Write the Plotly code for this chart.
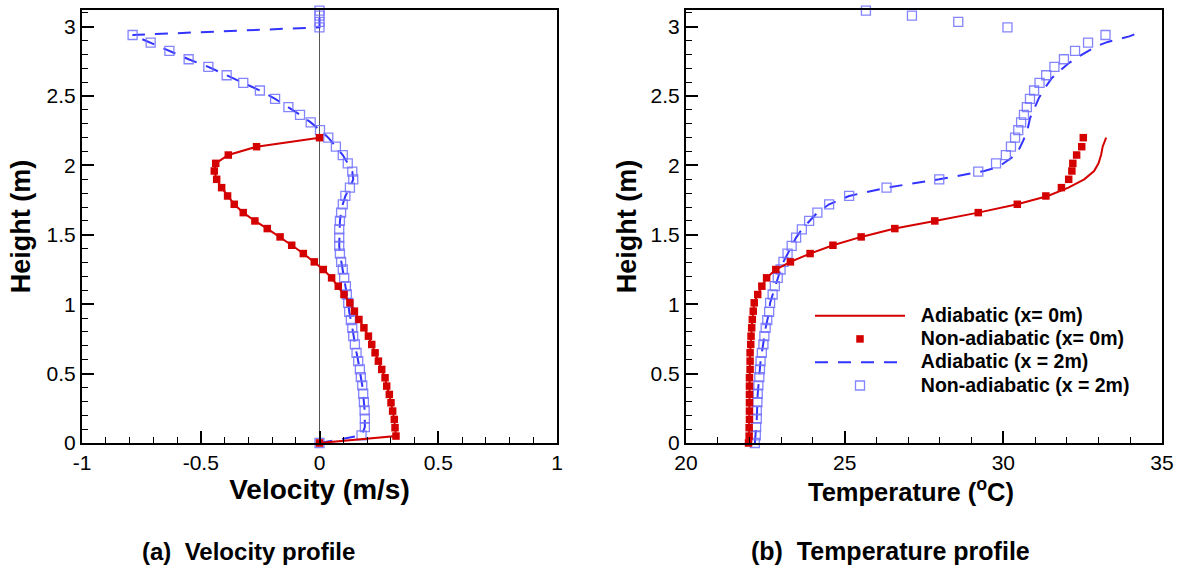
import plotly.graph_objects as go

# ---------------- data ----------------
# x = 0 m profiles
height_x0 = [0, 0.05, 0.11, 0.17, 0.23, 0.29, 0.35, 0.41, 0.47, 0.53, 0.59, 0.65, 0.71,
             0.77, 0.83, 0.89, 0.95, 1.01, 1.07, 1.13, 1.19, 1.25, 1.305, 1.365, 1.425,
             1.485, 1.545, 1.60, 1.66, 1.72, 1.78, 1.84, 1.90, 1.96, 2.015, 2.075, 2.135, 2.20]
vel_x0 = [0, 0.322, 0.318, 0.315, 0.308, 0.301, 0.294, 0.283, 0.276, 0.262, 0.248, 0.234,
          0.22, 0.206, 0.187, 0.166, 0.147, 0.128, 0.103, 0.079, 0.051, 0.016, -0.022,
          -0.068, -0.117, -0.166, -0.22, -0.272, -0.321, -0.359, -0.387, -0.412, -0.433,
          -0.443, -0.437, -0.384, -0.265, 0.0]
temp_x0_non = [21.97, 21.99, 21.99, 22.0, 22.0, 22.0, 22.0, 22.0, 22.0, 22.02, 22.02, 22.02,
               22.04, 22.05, 22.07, 22.09, 22.12, 22.15, 22.26, 22.39, 22.54, 22.83, 23.29,
               23.91, 24.63, 25.52, 26.58, 27.84, 29.21, 30.44, 31.34, 31.83, 32.06, 32.16,
               32.19, 32.31, 32.47, 32.52]
temp_x0_adi = [21.97, 21.99, 21.99, 22.0, 22.0, 22.0, 22.0, 22.0, 22.0, 22.02, 22.02, 22.02,
               22.04, 22.05, 22.07, 22.09, 22.12, 22.15, 22.26, 22.39, 22.54, 22.83, 23.29,
               23.91, 24.63, 25.52, 26.58, 27.84, 29.21, 30.44, 31.4, 32.05, 32.55, 32.86,
               33.0, 33.08, 33.13, 33.24]

# x = 2 m profiles
height_x2 = [0, 0.055, 0.115, 0.175, 0.235, 0.295, 0.355, 0.415, 0.475, 0.53, 0.59, 0.65,
             0.71, 0.77, 0.83, 0.885, 0.945, 1.01, 1.07, 1.13, 1.19, 1.25, 1.305, 1.365,
             1.42, 1.48, 1.54, 1.60, 1.66, 1.72, 1.78, 1.84, 1.90, 1.955, 2.015, 2.075,
             2.135, 2.20, 2.255, 2.31, 2.365, 2.42, 2.48, 2.54, 2.595, 2.65, 2.71, 2.765,
             2.825, 2.885, 2.94, 2.995, 3.035, 3.08, 3.115]
vel_x2 = [0, 0.177, 0.191, 0.191, 0.19, 0.187, 0.184, 0.18, 0.174, 0.17, 0.163, 0.156,
          0.149, 0.142, 0.138, 0.132, 0.125, 0.121, 0.115, 0.111, 0.104, 0.098, 0.091,
          0.086, 0.083, 0.083, 0.083, 0.086, 0.091, 0.098, 0.109, 0.128, 0.142, 0.138,
          0.119, 0.098, 0.069, 0.037, 0.002, -0.037, -0.082, -0.131, -0.187, -0.251,
          -0.321, -0.391, -0.468, -0.551, -0.632, -0.711, -0.787, 0, 0, 0, 0]
temp_x2_non = [22.17, 22.2, 22.21, 22.23, 22.23, 22.25, 22.26, 22.28, 22.31, 22.33,
               22.35, 22.39, 22.44, 22.47, 22.51, 22.56, 22.62, 22.65, 22.73, 22.8,
               22.89, 22.98, 23.07, 23.2, 23.33, 23.47, 23.65, 23.88, 24.14, 24.51,
               25.14, 26.32, 27.98, 29.21, 29.77, 30.08, 30.24, 30.37, 30.47, 30.56,
               30.65, 30.74, 30.84, 30.97, 31.14, 31.35, 31.61, 31.91, 32.26, 32.67,
               33.22, 30.13, 28.58, 27.12, 25.67]
height_x2_adi_t = [0, 0.055, 0.115, 0.175, 0.235, 0.295, 0.355, 0.415, 0.475, 0.53, 0.59,
                   0.65, 0.71, 0.77, 0.83, 0.885, 0.945, 1.01, 1.07, 1.13, 1.19, 1.25,
                   1.305, 1.365, 1.42, 1.48, 1.54, 1.60, 1.66, 1.72, 1.78, 1.84, 1.90,
                   1.96, 1.99, 2.055, 2.105, 2.18, 2.255, 2.34, 2.41, 2.49, 2.555, 2.63,
                   2.68, 2.735, 2.775, 2.82, 2.86, 2.89, 2.91, 2.93, 2.96, 2.97]
temp_x2_adi = [22.17, 22.2, 22.21, 22.23, 22.23, 22.25, 22.26, 22.28, 22.31, 22.33,
               22.35, 22.39, 22.44, 22.47, 22.51, 22.56, 22.62, 22.65, 22.73, 22.8,
               22.89, 22.98, 23.07, 23.2, 23.33, 23.47, 23.65, 23.88, 24.14, 24.51,
               25.14, 26.32, 27.98, 29.4, 29.85, 30.26, 30.47, 30.63, 30.76, 30.84,
               30.98, 31.13, 31.3, 31.53, 31.77, 32.05, 32.31, 32.63, 32.94, 33.29,
               33.6, 33.97, 34.3, 34.4]

series_names = ["Adiabatic (x= 0m)", "Non-adiabatic (x= 0m)",
                "Adiabatic (x = 2m)", "Non-adiabatic (x = 2m)"]
vel_ticks = [-1, -0.5, 0, 0.5, 1]
vel_ticklabels = ["-1", "-0.5", "0", "0.5", "1"]
temp_ticks = [20, 25, 30, 35]
height_ticks = [0, 0.5, 1, 1.5, 2, 2.5, 3]
height_ticklabels = ["0", "0.5", "1", "1.5", "2", "2.5", "3"]

# ---------------- styles ----------------
RED = "#d40000"
BLUE = "#3333ff"
BLUE_MK = "rgba(110,110,255,0.85)"
FONT = "Liberation Sans, Arial, sans-serif"
W, H = 1183, 573

fig = go.Figure()


def legend_label(name):
    return '<span style="font-size:19.5px">&nbsp;&nbsp;' + name + "</span>"


def add_set(xa, ya, vx0_line, vx0_mk, hx0, vx2_line, hx2_line, vx2_mk, hx2, legend):
    # blue first (drawn underneath)
    fig.add_trace(go.Scatter(x=vx2_line, y=hx2_line, mode="lines",
                             name=legend_label(series_names[2]),
                             line=dict(color=BLUE, width=2, dash="13px,10px"),
                             xaxis=xa, yaxis=ya, showlegend=legend, legendrank=3,
                             cliponaxis=False))
    fig.add_trace(go.Scatter(x=vx2_mk, y=hx2, mode="markers",
                             name=legend_label(series_names[3]),
                             marker=dict(symbol="square-open", size=9, color=BLUE_MK,
                                         line=dict(width=1.3, color=BLUE_MK)),
                             xaxis=xa, yaxis=ya, showlegend=legend, legendrank=4,
                             cliponaxis=False))
    fig.add_trace(go.Scatter(x=vx0_line, y=hx0, mode="lines",
                             name=legend_label(series_names[0]),
                             line=dict(color=RED, width=2),
                             xaxis=xa, yaxis=ya, showlegend=legend, legendrank=1,
                             cliponaxis=False))
    fig.add_trace(go.Scatter(x=vx0_mk, y=hx0, mode="markers",
                             name=legend_label(series_names[1]),
                             marker=dict(symbol="square", size=7.5, color=RED),
                             xaxis=xa, yaxis=ya, showlegend=legend, legendrank=2,
                             cliponaxis=False))


add_set("x", "y", vel_x0, vel_x0, height_x0, vel_x2, height_x2, vel_x2, height_x2, False)
add_set("x2", "y2", temp_x0_adi, temp_x0_non, height_x0, temp_x2_adi, height_x2_adi_t,
        temp_x2_non, height_x2, True)


def px_x(p):
    return p / W


def px_y(p):
    return 1 - p / H


common = dict(showline=True, linecolor="black", linewidth=2, mirror=True,
              ticks="inside", ticklen=12, tickwidth=1.5, tickcolor="black",
              showgrid=False, zeroline=False, automargin=False,
              tickfont=dict(family=FONT, size=21, color="black"))


def tfont(size):
    return dict(family=FONT, size=size, color="black", weight="bold")


fig.update_layout(
    width=W, height=H,
    margin=dict(l=0, r=0, t=0, b=0, pad=0, autoexpand=False),
    paper_bgcolor="white", plot_bgcolor="white",
    xaxis=dict(domain=[px_x(82), px_x(557)], range=[-1, 1], tickvals=vel_ticks,
               ticktext=vel_ticklabels, anchor="y",
               minor=dict(dtick=0.1, ticks="inside", ticklen=6, tickwidth=1, tickcolor="black"),
               title=dict(text="Velocity (m/s)", font=tfont(28), standoff=2),
               **{k: v for k, v in common.items() if k != "zeroline"},
               zeroline=True, zerolinecolor="#555555", zerolinewidth=1),
    yaxis=dict(domain=[px_y(443), px_y(10)], range=[0, 3.12], tickvals=height_ticks,
               ticktext=height_ticklabels, anchor="x",
               minor=dict(dtick=0.1, ticks="inside", ticklen=6, tickwidth=1, tickcolor="black"),
               title=dict(text="Height (m)", font=tfont(27), standoff=8), **common),
    xaxis2=dict(domain=[px_x(686), px_x(1162)], range=[20, 35], tickvals=temp_ticks,
                anchor="y2",
                minor=dict(dtick=1, ticks="inside", ticklen=6, tickwidth=1, tickcolor="black"),
                **common),
    yaxis2=dict(domain=[px_y(443), px_y(10)], range=[0, 3.12], tickvals=height_ticks,
                ticktext=height_ticklabels, anchor="x2",
                minor=dict(dtick=0.1, ticks="inside", ticklen=6, tickwidth=1, tickcolor="black"),
                title=dict(text="Height (m)", font=tfont(27), standoff=6), **common),
    legend=dict(x=px_x(810), y=px_y(299), xanchor="left", yanchor="top",
                bgcolor="rgba(0,0,0,0)", itemwidth=90, tracegroupgap=0,
                font=dict(family=FONT, size=15.6, color="black", weight="bold")),
    showlegend=True,
    annotations=[
        dict(text="Temperature (<sup>o</sup>C)", x=px_x(911), y=px_y(490), xref="paper",
             yref="paper", showarrow=False, xanchor="center", yanchor="middle",
             font=tfont(25.5)),
        dict(text="(a)  Velocity profile", x=px_x(248), y=px_y(551), xref="paper",
             yref="paper", showarrow=False, xanchor="center", yanchor="middle",
             font=tfont(24)),
        dict(text="(b)  Temperature profile", x=px_x(890), y=px_y(551), xref="paper",
             yref="paper", showarrow=False, xanchor="center", yanchor="middle",
             font=tfont(25)),
    ],
)

fig.write_html("out.html")
